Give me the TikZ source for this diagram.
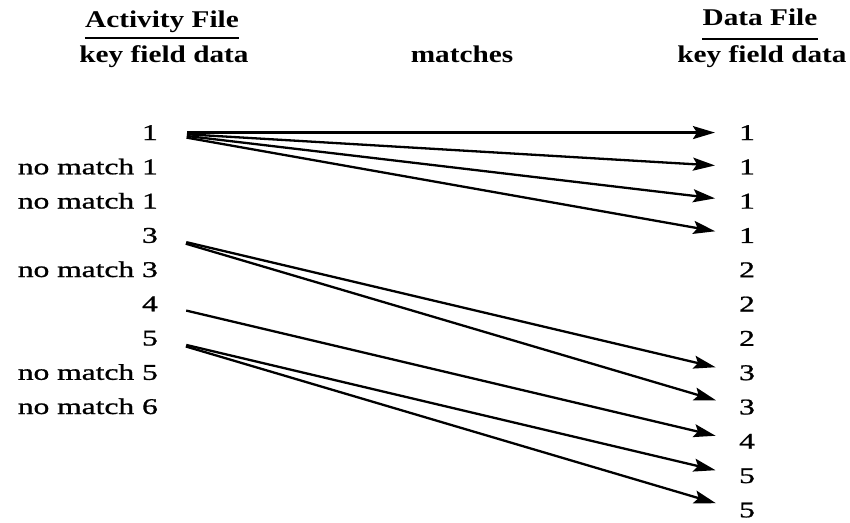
\documentclass[tikz,border=0pt]{standalone}
\usepackage{graphicx}
\usepackage{fontspec}
\setmainfont{Liberation Serif}
\newfontfamily\listfont{Liberation Serif}[FakeBold=0.9]
\usetikzlibrary{arrows.meta}
% wide set type for the listing and the headings
\newcommand{\bodytext}[1]{\scalebox{1.4}[1]{#1}}
\newcommand{\headtext}[1]{\scalebox{1.22}[1]{#1}}
\begin{document}
\begin{tikzpicture}[x=1pt,y=-1pt,
  body/.style={inner sep=0pt, font=\fontsize{22.5}{27}\listfont},
  head/.style={inner sep=0pt, font=\fontsize{24}{29}\selectfont\bfseries},
  rule/.style={line width=1.8pt},
  link/.style={line width=2.3pt, -{Stealth[length=22pt,width=13pt,inset=4pt]},
               shorten <=29pt, shorten >=24pt}]
\useasboundingbox (0,0) rectangle (850,522);

% column headings
\node[head, anchor=base] (af) at (162,27) {\headtext{Activity File}};
\node[head, anchor=base] (ak) at (164,62) {\headtext{key field data}};
\node[head, anchor=base] (mt) at (462,62) {\headtext{matches}};
\node[head, anchor=base] (df) at (760,25) {\headtext{Data File}};
\node[head, anchor=base] (dk) at (762,62) {\headtext{key field data}};
\draw[rule] ([yshift=-11pt]af.base west) -- ([yshift=-11pt]af.base east);
\draw[rule] ([yshift=-14pt]df.base west) -- ([yshift=-14pt]df.base east);

% activity file keys
\node[body, anchor=base east] (l0) at (158,140)   {\bodytext{1}};
\node[body, anchor=base east] (l1) at (158,174.3) {\bodytext{no match 1}};
\node[body, anchor=base east] (l2) at (158,208.5) {\bodytext{no match 1}};
\node[body, anchor=base east] (l3) at (158,242.8) {\bodytext{3}};
\node[body, anchor=base east] (l4) at (158,277)   {\bodytext{no match 3}};
\node[body, anchor=base east] (l5) at (158,311.3) {\bodytext{4}};
\node[body, anchor=base east] (l6) at (158,345.5) {\bodytext{5}};
\node[body, anchor=base east] (l7) at (158,379.8) {\bodytext{no match 5}};
\node[body, anchor=base east] (l8) at (158,414)   {\bodytext{no match 6}};

% data file keys
\node[body, anchor=base] (r0)  at (747,140)   {\bodytext{1}};
\node[body, anchor=base] (r1)  at (747,174.3) {\bodytext{1}};
\node[body, anchor=base] (r2)  at (747,208.6) {\bodytext{1}};
\node[body, anchor=base] (r3)  at (747,242.9) {\bodytext{1}};
\node[body, anchor=base] (r4)  at (747,277.2) {\bodytext{2}};
\node[body, anchor=base] (r5)  at (747,311.5) {\bodytext{2}};
\node[body, anchor=base] (r6)  at (747,345.8) {\bodytext{2}};
\node[body, anchor=base] (r7)  at (747,380.1) {\bodytext{3}};
\node[body, anchor=base] (r8)  at (747,414.4) {\bodytext{3}};
\node[body, anchor=base] (r9)  at (747,448.7) {\bodytext{4}};
\node[body, anchor=base] (r10) at (747,483)   {\bodytext{5}};
\node[body, anchor=base] (r11) at (747,517.3) {\bodytext{5}};

% matches
\foreach \t in {r0,r1,r2,r3} \draw[link] (l0.east) -- (\t.west);
\foreach \t in {r7,r8} \draw[link] (l3.east) -- (\t.west);
\draw[link] (l5.east) -- (r9.west);
\foreach \t in {r10,r11} \draw[link] (l6.east) -- (\t.west);
\end{tikzpicture}
\end{document}
